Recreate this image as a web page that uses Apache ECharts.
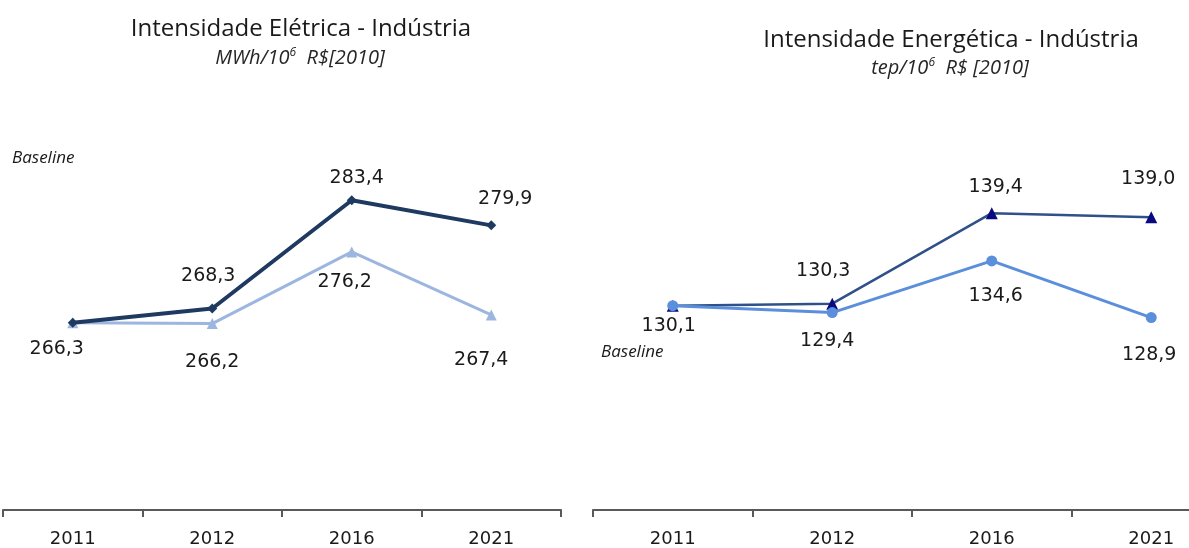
<!DOCTYPE html>
<html>
<head>
<meta charset="utf-8">
<script src="https://cdn.jsdelivr.net/npm/echarts@6/dist/echarts.min.js"></script>
<style>
  html, body { margin: 0; padding: 0; background: #fff; overflow: hidden; }
  /* a área do gráfico passa da janela: o eixo da direita continua além da borda */
  #main { width: 1240px; height: 548px; }
</style>
</head>
<body>
<div id="main"></div>
<script>
  // dados
  const anos = ['2011', '2012', '2016', '2021'];
  const eletricaBaseline = [266.3, 268.3, 283.4, 279.9];
  const eletricaCenario = [266.3, 266.2, 276.2, 267.4];
  const energeticaBaseline = [130.1, 130.3, 139.4, 139.0];
  const energeticaCenario = [130.1, 129.4, 134.6, 128.9];

  // deslocamento dos rótulos (null = sem rótulo)
  const offEletBase = [[-16, 26], [-4, -32], [5, -22], [14, -26]];
  const offEletCen = [null, [0, 38], [-7, 30], [-10, 45]];
  const offEnerBase = [null, [-9, -33], [4, -26], [-3, -38]];
  const offEnerCen = [[-4, 20], [-5, 28], [4, 35], [-2, 37]];

  const numFont = 'DejaVu Sans';
  const fmt = v => v.toFixed(1).replace('.', ',');

  function pontos(vals, offs) {
    return vals.map((v, i) => ({
      value: v,
      label: offs[i] ? { show: true, position: 'inside', offset: offs[i] } : { show: false }
    }));
  }

  const labelBase = {
    color: '#1a1a1a',
    fontFamily: numFont,
    fontSize: 19,
    formatter: p => fmt(p.value)
  };

  function eixoX(idx) {
    return {
      type: 'category',
      gridIndex: idx,
      data: anos,
      boundaryGap: true,
      axisLine: { lineStyle: { color: '#595959', width: 2 } },
      axisTick: { show: true, length: 7, lineStyle: { color: '#595959', width: 2 } },
      axisLabel: { color: '#1a1a1a', fontFamily: numFont, fontSize: 18, margin: 20 }
    };
  }

  function eixoY(idx, min, max) {
    return {
      type: 'value',
      gridIndex: idx,
      min: min,
      max: max,
      show: false,
      splitLine: { show: false }
    };
  }

  const titulo = '24px "Open Sans"';
  const sub = { font: 'italic 20px "Open Sans"', fill: '#262626' };
  const sup = { font: 'italic 12px "Open Sans"', fill: '#262626', padding: [0, 0, 10, 0] };

  const chart = echarts.init(document.getElementById('main'));
  chart.setOption({
    animation: false,
    grid: [
      { left: 3, width: 558, top: 151.5, height: 360.5 },
      { left: 593, width: 638, top: 152, height: 360 }
    ],
    xAxis: [eixoX(0), eixoX(1)],
    yAxis: [eixoY(0, 240.2, 290.2), eixoY(1, 109.55, 145.55)],
    graphic: [
      {
        type: 'text', x: 301, y: 29,
        style: { text: 'Intensidade Elétrica - Indústria', font: titulo, fill: '#1a1a1a', align: 'center', verticalAlign: 'middle' }
      },
      {
        type: 'text', x: 300, y: 58,
        style: { text: '{i|MWh/10}{s|6}{i|  R$[2010]}', align: 'center', verticalAlign: 'middle', rich: { i: sub, s: sup } }
      },
      {
        type: 'text', x: 951, y: 40,
        style: { text: 'Intensidade Energética - Indústria', font: titulo, fill: '#1a1a1a', align: 'center', verticalAlign: 'middle' }
      },
      {
        type: 'text', x: 950, y: 68,
        style: { text: '{i|tep/10}{s|6}{i|  R$ [2010]}', align: 'center', verticalAlign: 'middle', rich: { i: sub, s: sup } }
      },
      {
        type: 'text', x: 12, y: 158,
        style: { text: 'Baseline', font: 'italic 17px "Open Sans"', fill: '#1a1a1a', align: 'left', verticalAlign: 'middle' }
      },
      {
        type: 'text', x: 601, y: 352,
        style: { text: 'Baseline', font: 'italic 17px "Open Sans"', fill: '#1a1a1a', align: 'left', verticalAlign: 'middle' }
      }
    ],
    series: [
      {
        type: 'line', xAxisIndex: 0, yAxisIndex: 0,
        data: pontos(eletricaCenario, offEletCen),
        symbol: 'triangle', symbolSize: 11,
        lineStyle: { color: '#9db6e0', width: 3 },
        itemStyle: { color: '#9db6e0' },
        label: labelBase, z: 2
      },
      {
        type: 'line', xAxisIndex: 0, yAxisIndex: 0,
        data: pontos(eletricaBaseline, offEletBase),
        symbol: 'diamond', symbolSize: 10,
        lineStyle: { color: '#1f3a60', width: 4 },
        itemStyle: { color: '#1f3a60' },
        label: labelBase, z: 3
      },
      {
        type: 'line', xAxisIndex: 1, yAxisIndex: 1,
        data: pontos(energeticaBaseline, offEnerBase),
        symbol: 'triangle', symbolSize: 12,
        lineStyle: { color: '#2f5088', width: 2.5 },
        itemStyle: { color: '#0a0a80' },
        label: labelBase, z: 2
      },
      {
        type: 'line', xAxisIndex: 1, yAxisIndex: 1,
        data: pontos(energeticaCenario, offEnerCen),
        symbol: 'circle', symbolSize: 11,
        lineStyle: { color: '#5b8fdc', width: 3 },
        itemStyle: { color: '#5b8fdc' },
        label: labelBase, z: 3
      }
    ]
  });
</script>
</body>
</html>
